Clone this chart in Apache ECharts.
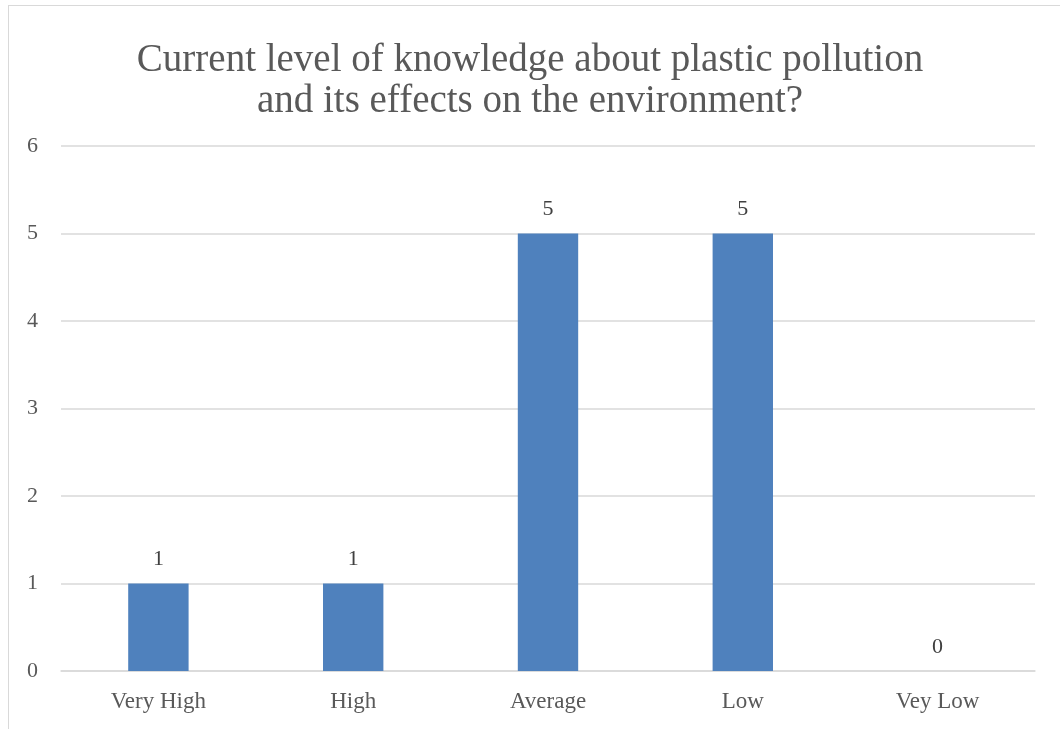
<!DOCTYPE html>
<html><head><meta charset="utf-8">
<script src="https://cdn.jsdelivr.net/npm/echarts@6/dist/echarts.min.js"></script>
<style>html,body{margin:0;padding:0;background:#fff}#frame{position:absolute;left:8px;top:5px;width:1060px;height:740px;border:1.5px solid #d9d9d9;box-sizing:border-box}#c{position:absolute;left:0;top:0;width:1060px;height:729px}</style>
</head><body><div id="frame"></div><div id="c"></div>
<script>
const titleText = 'Current level of knowledge about plastic pollution\nand its effects on the environment?';
const categories = ['Very High', 'High', 'Average', 'Low', 'Vey Low'];
const values = [1, 1, 5, 5, 0];
const yTicks = { min: 0, max: 6, interval: 1 };
const FONT = '"Liberation Serif", serif';
const chart = echarts.init(document.getElementById('c'));
chart.setOption({
  animation: false,
  title: { text: titleText, left: 525, top: 35, textAlign: 'center',
    textStyle: { fontFamily: FONT, fontSize: 39, fontWeight: 'normal', color: '#595959', lineHeight: 41 } },
  grid: { left: 61, right: 25, top: 146, bottom: 58, containLabel: false },
  xAxis: { type: 'category', data: categories,
    axisLine: { show: true, lineStyle: { color: '#d9d9d9', width: 1.5 } },
    axisTick: { show: false },
    axisLabel: { fontFamily: FONT, fontSize: 23, color: '#595959', margin: 19 } },
  yAxis: { type: 'value', min: yTicks.min, max: yTicks.max, interval: yTicks.interval,
    axisLine: { show: false }, axisTick: { show: false },
    splitLine: { lineStyle: { color: '#d9d9d9', width: 1.5 } },
    axisLabel: { fontFamily: FONT, fontSize: 22, color: '#595959', margin: 23 } },
  series: [{ type: 'bar', data: values, barWidth: '31%',
    itemStyle: { color: '#4f81bd' },
    label: { show: true, position: 'top', distance: 13, fontFamily: FONT, fontSize: 22, color: '#404040' } }]
});
</script></body></html>
